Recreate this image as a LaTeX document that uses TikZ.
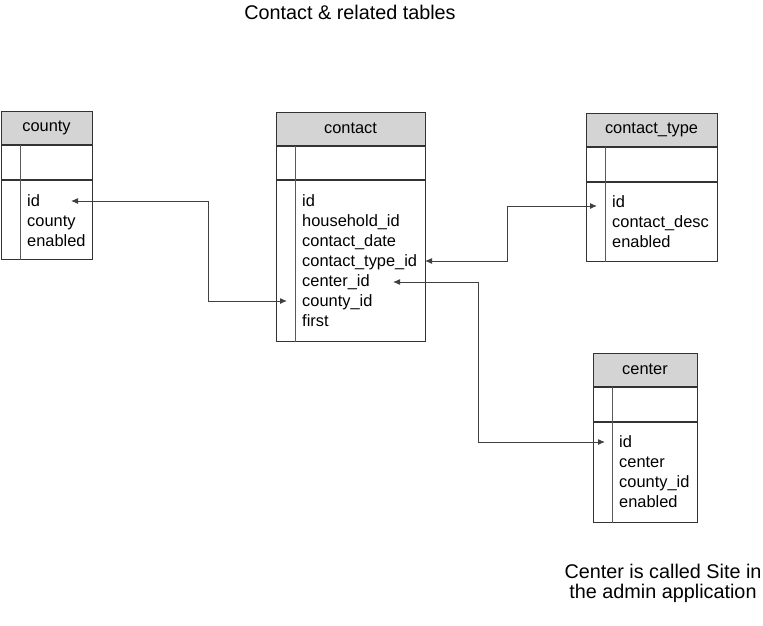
\documentclass[tikz,border=0pt]{standalone}
\usepackage{fontspec}
\setmainfont{Liberation Sans}
\usetikzlibrary{positioning,arrows.meta}
\newcommand\fieldfont{\fontsize{16.4}{20}\selectfont}
\newcommand\notefont{\fontsize{19.8}{20}\selectfont}
\tikzset{
  tblhead/.style={draw=black!80, fill=black!17, line width=1pt, minimum height=33pt, inner sep=0pt, font=\fieldfont},
  tblrow/.style={draw=black!80, line width=1pt, inner sep=0pt},
  keyline/.style={draw=black!65, line width=1pt},
  field/.style={anchor=base west, inner sep=0pt, font=\fieldfont},
  link/.style={{Latex[length=7pt,width=6pt]}-{Latex[length=7pt,width=6pt]}, draw=black!75, line width=1pt},
}
\begin{document}
\begin{tikzpicture}[x=1pt, y=-1pt]
            \useasboundingbox (0,0) rectangle (763,626);

            \node[font=\notefont, anchor=base, inner sep=0pt] (title) at (350,19.5) {Contact \& related tables};

            % county
            \node[tblhead, minimum width=91pt] (cty-head) at (46.5,127.5) {county};
            \node[tblrow, minimum width=91pt, minimum height=34pt, below=0pt of cty-head] (cty-key) {};
            \node[tblrow, minimum width=91pt, minimum height=79pt, below=0pt of cty-key] (cty-body) {};
            \foreach \f [count=\i] in {id,county,enabled}
                \node[field] (cty-f\i) at (27,186+20*\i) {\f};

            % contact
            \node[tblhead, minimum width=149pt] (ctc-head) at (350.5,128.5) {contact};
            \node[tblrow, minimum width=149pt, minimum height=33pt, below=0pt of ctc-head] (ctc-key) {};
            \node[tblrow, minimum width=149pt, minimum height=161pt, below=0pt of ctc-key] (ctc-body) {};
            \foreach \f [count=\i] in {id,household\_id,contact\_date,contact\_type\_id,center\_id,county\_id,first}
                \node[field] (ctc-f\i) at (302,186+20*\i) {\f};

            % contact_type
            \node[tblhead, minimum width=131pt] (typ-head) at (651.5,129.5) {contact\_type};
            \node[tblrow, minimum width=131pt, minimum height=34pt, below=0pt of typ-head] (typ-key) {};
            \node[tblrow, minimum width=131pt, minimum height=79pt, below=0pt of typ-key] (typ-body) {};
            \foreach \f [count=\i] in {id,contact\_desc,enabled}
                \node[field] (typ-f\i) at (612,187.5+20*\i) {\f};

            % center
            \node[tblhead, minimum width=104pt] (cen-head) at (645,369.5) {center};
            \node[tblrow, minimum width=104pt, minimum height=34pt, below=0pt of cen-head] (cen-key) {};
            \node[tblrow, minimum width=104pt, minimum height=100pt, below=0pt of cen-key] (cen-body) {};
            \foreach \f [count=\i] in {id,center,county\_id,enabled}
                \node[field] (cen-f\i) at (619,427.5+20*\i) {\f};

            \foreach \t in {cty,ctc,typ,cen}
                \draw[keyline] ([xshift=19.5pt]\t-key.north west) -- ([xshift=19.5pt]\t-body.south west);

            \node[font=\notefont, align=center, anchor=base, inner sep=0pt] (note) at (663,598) {Center is called Site in\\the admin application};

            % connection points
            \coordinate (cty-in) at (71,201);
            \coordinate (ctc-in) at (287,301);
            \coordinate (ctc-typept) at (425,261);
            \coordinate (ctc-cenpt) at (393,282);
            \coordinate (typ-in) at (597,206);
            \coordinate (cen-in) at (605,442);

            \draw[link] (cty-in) -| ([xshift=-79pt]ctc-in) -- (ctc-in);
            \draw[link] (ctc-typept) -| ([xshift=-90pt]typ-in) -- (typ-in);
            \draw[link] (ctc-cenpt) -| ([xshift=-127pt]cen-in) -- (cen-in);
        \end{tikzpicture}
\end{document}
